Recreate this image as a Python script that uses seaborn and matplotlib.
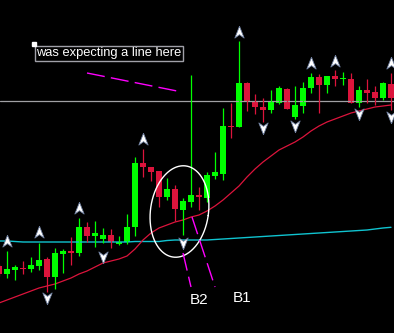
import numpy as np
import pandas as pd
import matplotlib
matplotlib.use('Agg')
import matplotlib.pyplot as plt
from matplotlib.path import Path
import seaborn as sns

# --- 캔들 데이터 (시가/고가/저가/종가) ---
opens = [734, 726, 730, 732, 731, 734, 741, 723, 746, 749, 747, 773, 764, 761, 765, 756, 758, 773, 837, 833,
         829, 803, 811, 790, 798, 805, 802, 824, 826, 874, 873, 917, 899, 893, 890, 897, 911, 883, 894, 912,
         923, 915, 924, 921, 921, 897, 910, 908, 902, 916]
highs = [736, 749, 735, 739, 743, 757, 743, 752, 751, 763, 782, 778, 779, 772, 771, 764, 786, 843, 851, 833,
         829, 822, 815, 802, 925, 813, 828, 848, 892, 897, 959, 918, 906, 902, 910, 914, 912, 914, 918, 927,
         926, 924, 930, 928, 927, 914, 921, 914, 918, 927]
lows = [724, 722, 720, 726, 728, 730, 708, 711, 727, 735, 744, 758, 753, 757, 752, 755, 756, 764, 823, 819,
        793, 800, 779, 765, 793, 790, 798, 821, 820, 862, 873, 889, 886, 878, 887, 896, 891, 881, 887, 907,
        887, 907, 914, 915, 897, 893, 897, 895, 900, 890]
closes = [726, 731, 733, 731, 735, 740, 723, 747, 749, 747, 773, 764, 767, 765, 758, 758, 773, 837, 833, 828,
          803, 811, 791, 799, 805, 803, 825, 828, 874, 873, 917, 899, 893, 890, 898, 912, 891, 895, 912, 923,
          915, 924, 921, 922, 897, 910, 907, 902, 917, 902]

# 이동평균선 (빨강: 단기, 청록: 장기)
ma_fast = [697, 700, 703, 706, 709, 712, 714, 716, 719, 722, 726, 729, 733, 737, 739, 741, 744, 751, 760, 767,
           772, 775, 778, 780, 783, 785, 789, 794, 800, 807, 814, 823, 831, 838, 844, 850, 854, 858, 863, 869,
           874, 878, 881, 884, 887, 889, 891, 893, 894, 895]
ma_slow = [759, 759, 758.5, 758, 758, 758, 758, 758, 758, 758, 758, 758, 758, 758, 758, 758, 758, 758.5, 758.5, 758.5,
           758.5, 759.5, 760, 760, 760, 760, 760, 760.5, 761, 761.5, 762, 762.5, 763, 763.5, 764, 764.5, 765, 765.5,
           766, 766.5, 767, 767.5, 768, 768.5, 769, 769.5, 770, 771, 772, 772.7]

# 프랙탈 화살표
up_idx = [1, 5, 10, 18, 30, 39, 42, 49]
up_val = [759, 768, 792, 861, 968, 937, 939, 937]
dn_idx = [6, 13, 23, 33, 37, 45, 49]
dn_val = [702, 743, 757, 872, 874, 886, 883]

h_level = 899  # 회색 수평선

# 손으로 그린 점선 (시작/끝 좌표)
note_line = ([11.0, 22.25], [927, 909])
b1_line = ([24.125, 27.0], [783, 713])
b2_line = ([23.0, 24.0], [747, 713])

df = pd.DataFrame({'open': opens, 'high': highs, 'low': lows, 'close': closes,
                   'ma_fast': ma_fast, 'ma_slow': ma_slow})
df['idx'] = np.arange(len(df))
df['up'] = df['close'] >= df['open']

sns.set_style('dark', {'axes.facecolor': 'black', 'figure.facecolor': 'black'})
plt.rcParams['font.family'] = ['Liberation Sans', 'DejaVu Sans']
plt.rcParams['lines.scale_dashes'] = False

fig = plt.figure(figsize=(3.94, 3.33), dpi=100)
ax = fig.add_axes([0, 0, 1, 1])
ax.set_facecolor('black')

GREEN = '#00ff00'
RED = '#dc143c'

# 수평선
ax.axhline(h_level, color='#a0a0a4', lw=0.9)

# 이동평균
sns.lineplot(data=df, x='idx', y='ma_slow', color='#10c4d0', lw=1.0, ax=ax)
sns.lineplot(data=df, x='idx', y='ma_fast', color=RED, lw=0.9, ax=ax)

# 캔들
for is_up, color in [(True, GREEN), (False, RED)]:
    d = df[df['up'] == is_up]
    ax.vlines(d['idx'], d['low'], d['high'], color=color, lw=0.9)
    body_lo = np.minimum(d['open'], d['close'])
    body_h = np.maximum(np.abs(d['close'] - d['open']), 1)
    ax.bar(d['idx'], body_h, bottom=body_lo, width=0.64, color=color, linewidth=0,
           antialiased=False)

# 프랙탈 화살표 마커
up_marker = Path([(0, 1), (0.75, -0.9), (0, -0.35), (-0.75, -0.9), (0, 1)])
dn_marker = Path([(0, -1), (0.75, 0.9), (0, 0.35), (-0.75, 0.9), (0, -1)])
sns.scatterplot(x=up_idx, y=up_val, marker=up_marker, s=80, color='white',
                edgecolor='#7080a0', linewidth=0.6, ax=ax, zorder=5)
sns.scatterplot(x=dn_idx, y=dn_val, marker=dn_marker, s=80, color='white',
                edgecolor='#7080a0', linewidth=0.6, ax=ax, zorder=5)

# 타원 (픽셀 단위로 계산 후 데이터 좌표로 변환)
cx, cy = 22.56, 788.5
a, b, ang = 29.0, 46.0, np.deg2rad(-8)
t = np.linspace(0, 2 * np.pi, 300)
ex = a * np.cos(t) * np.cos(ang) - b * np.sin(t) * np.sin(ang)
ey = a * np.cos(t) * np.sin(ang) + b * np.sin(t) * np.cos(ang)
ax.plot(cx + ex / 8, cy + ey, color='white', lw=1.0, zorder=6)

# 점선
for xs, ys in [note_line, b1_line, b2_line]:
    ax.plot(xs, ys, color='#ff00ff', lw=1.0, linestyle=(0, (13, 4.5)), zorder=6)

# 텍스트
ax.text(4.62, 946.5, 'was expecting a line here', color='white', fontsize=9.3,
        va='center', ha='left',
        bbox=dict(boxstyle='square,pad=0.1', fc='black', ec='#a0a0a8', lw=1.0), zorder=7)
ax.plot([4.375], [955.5], marker='s', ms=2.5, color='white', zorder=8)
ax.text(25.06, 699.5, 'B2', color='white', fontsize=11, ha='center', va='center')
ax.text(30.375, 701.5, 'B1', color='white', fontsize=11, ha='center', va='center')

ax.set_xlim(0.125, 49.375)
ax.set_ylim(667, 1000)
ax.set_xlabel('')
ax.set_ylabel('')
ax.set_xticks([])
ax.set_yticks([])
for s in ax.spines.values():
    s.set_visible(False)
if ax.get_legend() is not None:
    ax.get_legend().remove()

fig.savefig('out.png', dpi=100, facecolor='black')
